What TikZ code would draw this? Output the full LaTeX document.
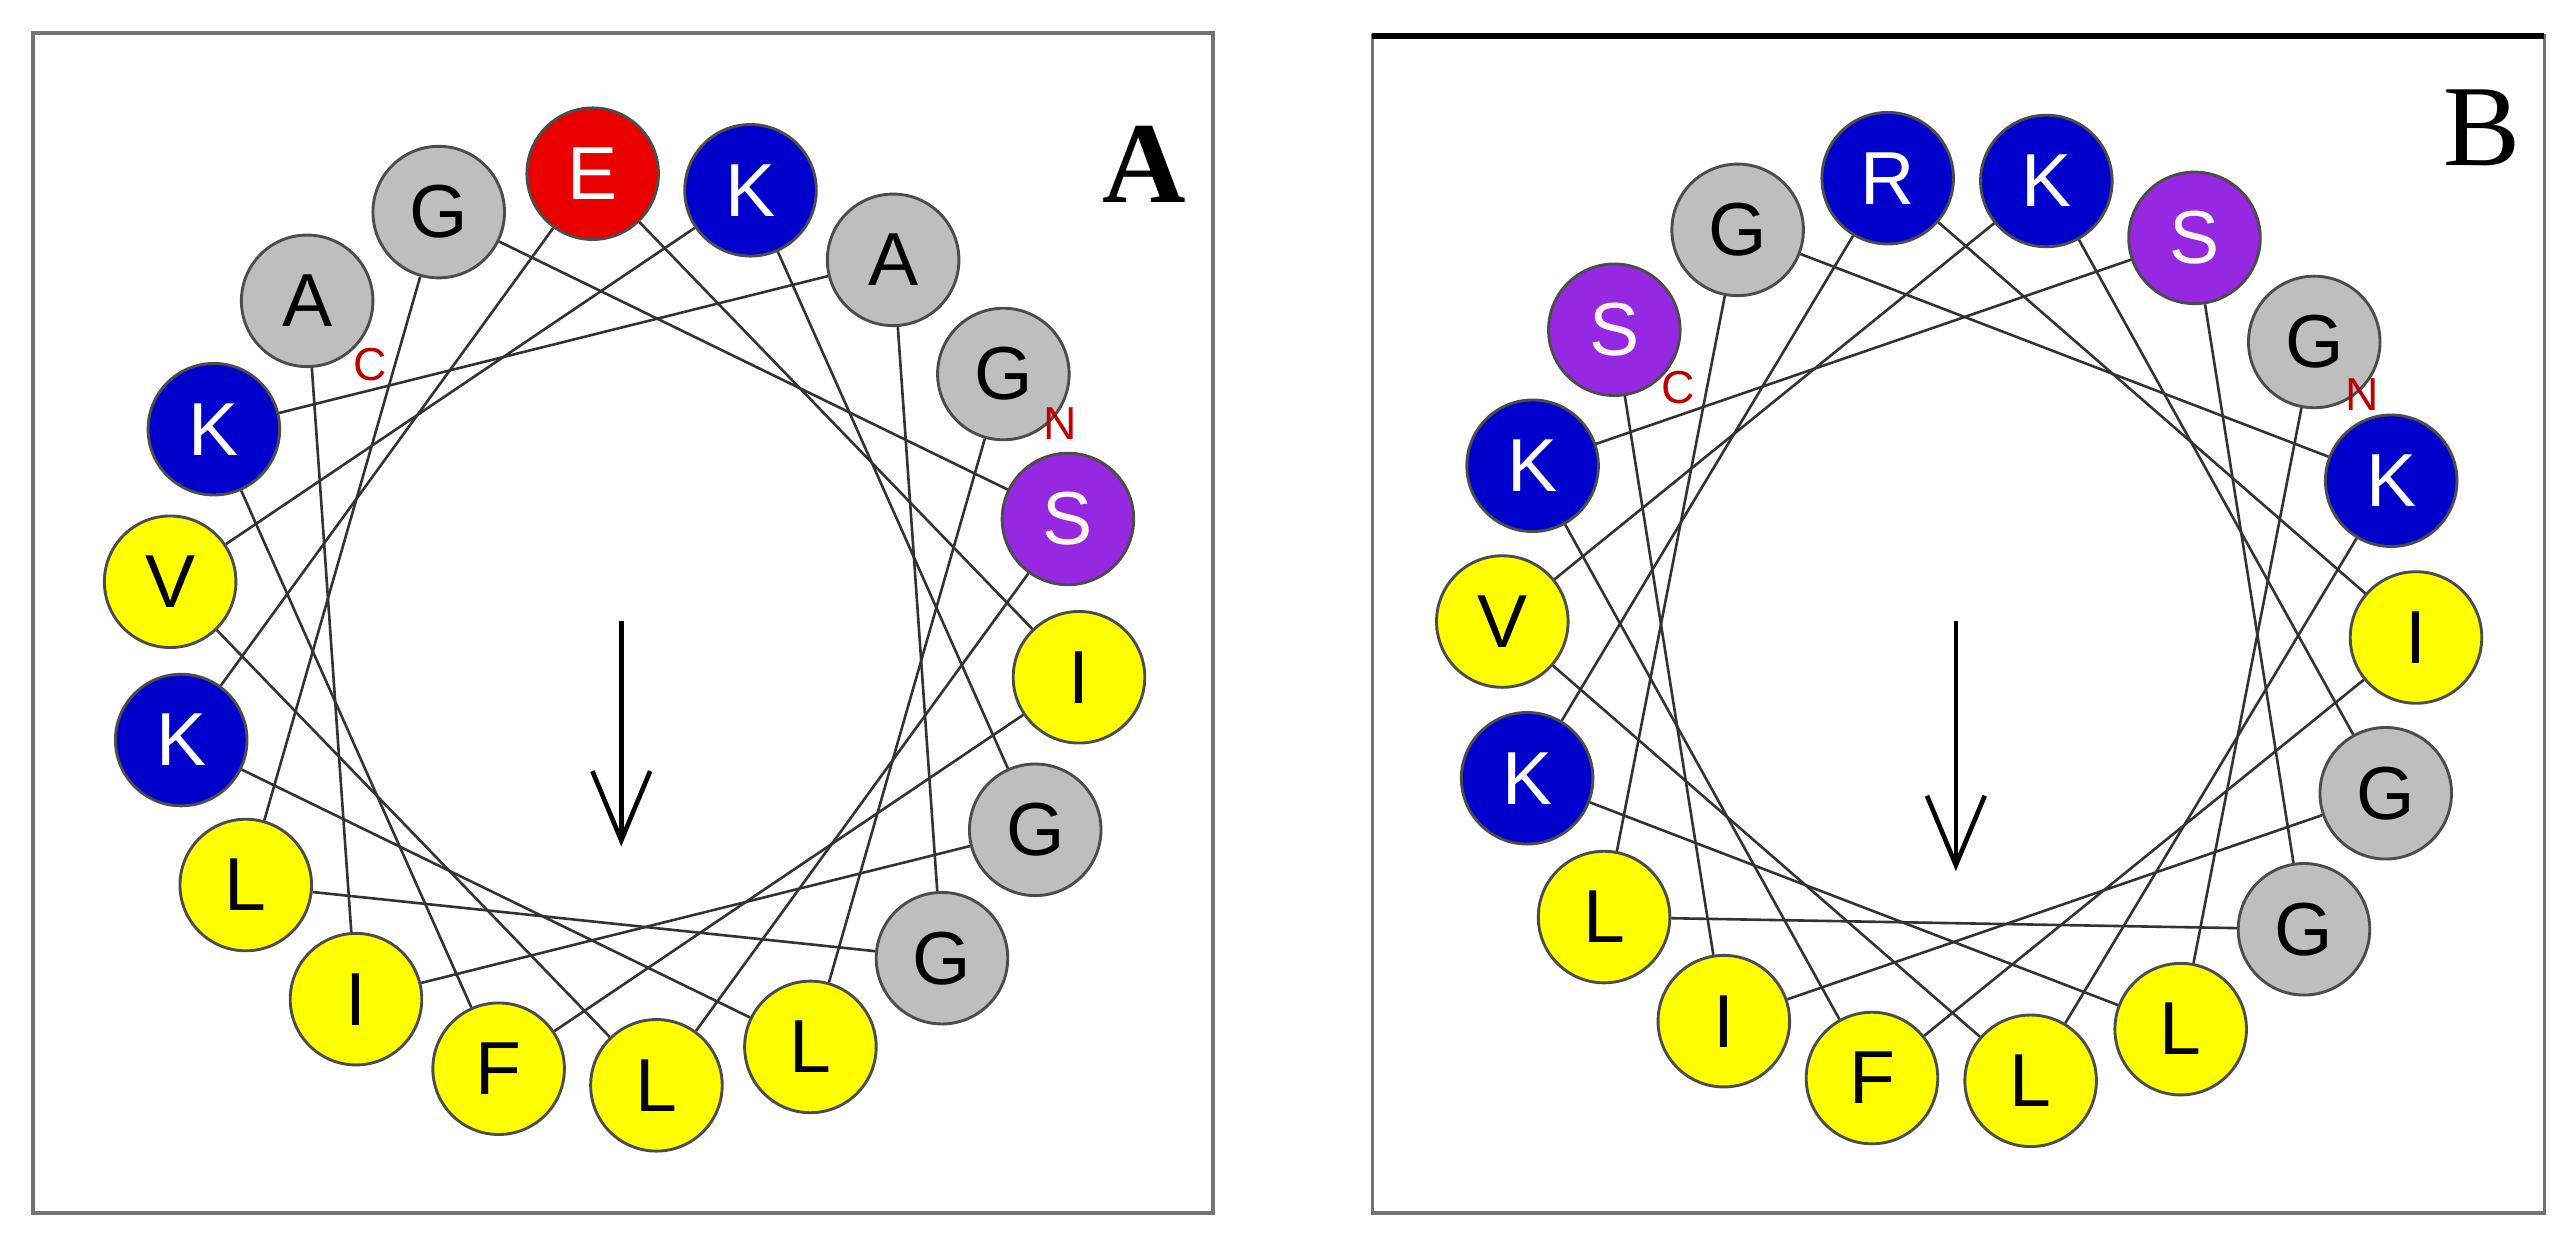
\documentclass[tikz,border=0pt]{standalone}
\usepackage{fontspec}
\setmainfont{Liberation Serif}
\newfontfamily\wheelfont{Liberation Sans}
\usetikzlibrary{arrows.meta}

\definecolor{resgray}{RGB}{190,190,190}
\definecolor{resblue}{RGB}{0,0,205}
\definecolor{resred}{RGB}{235,0,0}
\definecolor{respurple}{RGB}{150,40,225}
\definecolor{resyellow}{RGB}{255,255,0}

\tikzset{
  res/.style={circle, draw=black!70, line width=0.5pt, minimum size=0.8cm, inner sep=0pt,
    font=\wheelfont\fontsize{13}{15}\selectfont},
  gy/.style={res, fill=resgray, text=black},
  bl/.style={res, fill=resblue, text=white},
  rd/.style={res, fill=resred, text=white},
  pu/.style={res, fill=respurple, text=white!85!pink},
  yl/.style={res, fill=resyellow, text=black},
  link/.style={draw=black!80, line width=0.45pt},
  term/.style={text=red!75!black, font=\wheelfont\fontsize{8}{9}\selectfont},
  box/.style={draw=black!55, line width=0.6pt}
}

\begin{document}
\begin{tikzpicture}[x=0.01cm, y=-0.01cm]
  \useasboundingbox (0,0) rectangle (1560,757);

  % Panel frames
  \draw[box] (20,20) rectangle (738,738);
  \draw[box] (835,22) rectangle (1548,738);
  \draw[black, line width=1pt] (835,22) -- (1548,22);

  % Wheel A
  \foreach \p/\l/\s in {0/E/rd,1/K/bl,2/A/gy,3/G/gy,4/S/pu,5/I/yl,6/G/gy,7/G/gy,8/L/yl,
      9/L/yl,10/F/yl,11/I/yl,12/L/yl,13/K/bl,14/V/yl,15/K/bl,16/A/gy,17/G/gy}
    \node[\s] (a\p) at ({380+278*cos(94-20*\p)},{383-278*sin(94-20*\p)}) {\l};

  % Wheel B
  \foreach \p/\l/\s in {0/R/bl,1/K/bl,2/S/pu,3/G/gy,4/K/bl,5/I/yl,6/G/gy,7/G/gy,8/L/yl,
      9/L/yl,10/F/yl,11/I/yl,12/L/yl,13/K/bl,14/V/yl,15/K/bl,16/S/pu,17/G/gy}
    \node[\s] (b\p) at ({1192+278*cos(99-20*\p)},{383-278*sin(99-20*\p)}) {\l};

  % Helix backbone, 100 degrees per residue
  \foreach \k in {0,...,16} {
    \pgfmathtruncatemacro{\from}{mod(3+5*\k,18)}
    \pgfmathtruncatemacro{\to}{mod(3+5*(\k+1),18)}
    \begin{pgfonlayer}{main}
      \draw[link] (a\from) -- (a\to);
      \draw[link] (b\from) -- (b\to);
    \end{pgfonlayer}
  }

  % Termini
  \node[term] (nA) at (645,258) {N};
  \node[term] (cA) at (225,222) {C};
  \node[term] (nB) at (1437,240) {N};
  \node[term] (cB) at (1021,236) {C};

  % Moment arrows
  \coordinate (tailA) at (378,378);
  \coordinate (headA) at (378,515);
  \draw[-{Straight Barb[length=12pt,width=10pt]}, line width=0.8pt] (tailA) -- (headA);
  \coordinate (tailB) at (1190,378);
  \coordinate (headB) at (1190,530);
  \draw[-{Straight Barb[length=12pt,width=10pt]}, line width=0.8pt] (tailB) -- (headB);

  % Panel letters
  \node[font=\fontsize{20}{22}\selectfont\bfseries] (labA) at (696,100) {A};
  \node[font=\fontsize{20}{22}\selectfont] (labB) at (1510,78) {B};
\end{tikzpicture}
\end{document}
